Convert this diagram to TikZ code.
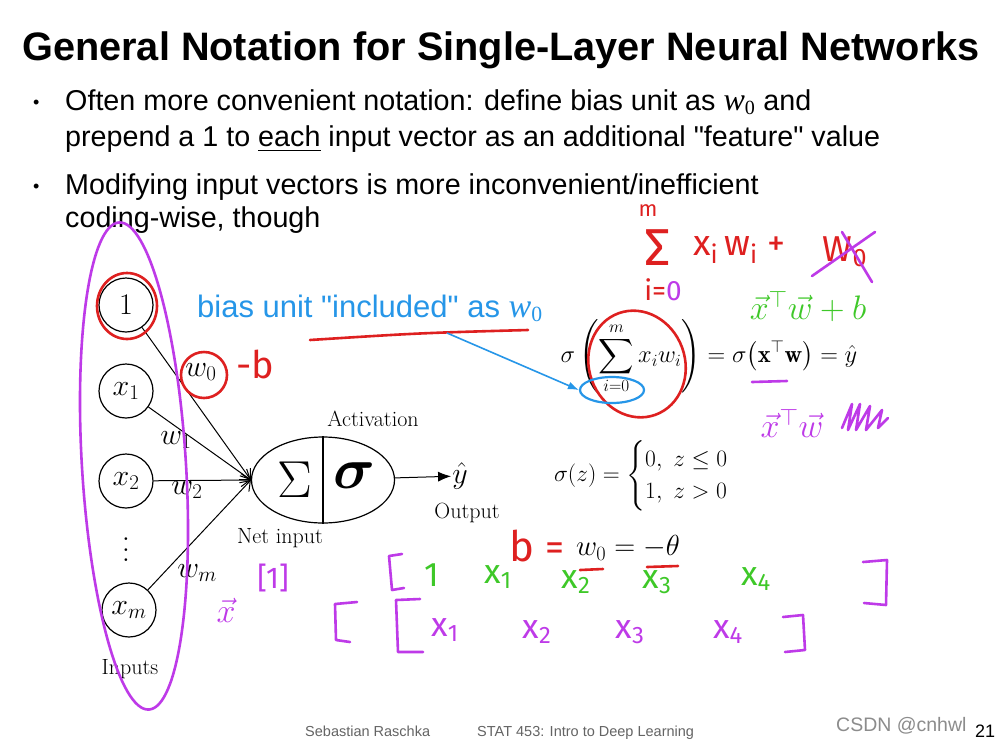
\documentclass[tikz,border=0pt]{standalone}
\usepackage{fix-cm}
\usepackage{amsmath, amssymb}
\usepackage{bm}
\usepackage{fontspec}
\newfontfamily\slidefont{Liberation Sans}
\newfontfamily\timesfont{Liberation Serif}
\newfontfamily\handfont{Fira Sans}
\usepackage{tikz}
\usetikzlibrary{positioning, shapes.geometric, arrows.meta}
\usepackage{xcolor}
\definecolor{penred}{RGB}{222,32,32}
\definecolor{pengreen}{RGB}{62,200,40}
\definecolor{penpurple}{RGB}{190,58,232}
\definecolor{slideblue}{RGB}{38,150,232}
\definecolor{footgray}{RGB}{100,100,100}

\begin{document}
\begin{tikzpicture}[x=1pt, y=-1pt,
    inputnode/.style={circle, draw, line width=1.2pt, minimum size=54pt, inner sep=0pt, font=\fontsize{30}{32}\selectfont},
    wlabel/.style={inner sep=1pt, font=\fontsize{30}{32}\selectfont},
    cmlabel/.style={inner sep=1pt, font=\fontsize{22}{24}\selectfont},
    mathbig/.style={inner sep=0pt, font=\fontsize{24.5}{28}\selectfont},
    slidetext/.style={anchor=base west, inner sep=0pt, font=\slidefont\fontsize{28.7}{32}\selectfont},
    hand/.style={inner sep=0pt, font=\handfont\fontsize{30}{32}\selectfont},
    rowhand/.style={inner sep=0pt, font=\handfont\fontsize{34}{36}\selectfont},
    pen/.style={line width=2.6pt, line cap=round, line join=round},
    wire/.style={line width=1pt, -{Straight Barb[length=9pt, width=13pt]}}]

    \useasboundingbox[fill=white] (0,0) rectangle (1000,745);

    % Title and bullets
    \node[anchor=base west, inner sep=0pt, font=\slidefont\bfseries\fontsize{39.7}{42}\selectfont] (title) at (22,60) {General Notation for Single-Layer Neural Networks};
    \node[slidetext] (dotA) at (33,108) {\fontsize{18}{20}\selectfont •};
    \node[slidetext] (lineA) at (65,110) {Often more convenient notation: define bias unit as {\timesfont\itshape\fontsize{32}{34}\selectfont w}\textsubscript{\timesfont 0} and};
    \node[slidetext] (lineB) at (65,146) {prepend a 1 to \underline{each} input vector as an additional "feature" value};
    \node[slidetext] (dotB) at (33,192) {\fontsize{18}{20}\selectfont •};
    \node[slidetext] (lineC) at (65,194) {Modifying input vectors is more inconvenient/inefficient};
    \node[slidetext] (lineD) at (65,227) {coding-wise, though};

    % Inputs
    \node[inputnode] (one) at (126,305) {$1$};
    \node[inputnode] (x1) at (126,391) {$x_1$};
    \node[inputnode] (x2) at (126,481) {$x_2$};
    \node[scale=2.6] (vdots) at (126,542) {$\vdots$};
    \node[inputnode] (xm) at (129,610) {$x_m$};
    \node[cmlabel] (inputs) at (130,669) {Inputs};

    % Neuron
    \node[ellipse, draw, line width=1.2pt, minimum width=143pt, minimum height=86pt] (neuron) at (323,480) {};
    \draw[line width=1.2pt] (neuron.north) -- (neuron.south);
    \node[font=\fontsize{52}{56}\selectfont] (sum) at (295,480) {$\Sigma$};
    \node[font=\fontsize{58}{60}\selectfont] (act) at (354,476) {$\bm{\sigma}$};
    \node[cmlabel] (activation) at (373,419) {Activation};
    \node[cmlabel] (netinput) at (280,538) {Net input};
    \node[wlabel] (yhat) at (460,476) {$\hat{y}$};
    \node[cmlabel] (output) at (467,513) {Output};

    % Weights
    \node[wlabel] (w0) at (201,372) {$w_0$};
    \node[wlabel] (w1) at (176,440) {$w_1$};
    \node[wlabel] (w2) at (187,490) {$w_2$};
    \node[wlabel] (wm) at (197,573) {$w_m$};

    % Connections
    \draw[wire] (one) -- (neuron.west);
    \draw[wire] (x1) -- (neuron.west);
    \draw[wire] (x2) -- (neuron.west);
    \draw[wire] (xm) -- (neuron.west);
    \draw[line width=1pt, -{Latex[length=13pt, width=10pt]}] (neuron) -- (yhat);

    % Formulas
    \node[slidetext, text=slideblue, font=\slidefont\fontsize{31}{34}\selectfont] (biasnote) at (197,317) {bias unit "included" as {\timesfont\itshape\fontsize{34}{36}\selectfont w}\textsubscript{\timesfont 0}};
    \node[mathbig] (netformula) at (709,357) {$\displaystyle \sigma\left(\sum_{i=0}^{m} x_i w_i\right) = \sigma\bigl(\mathbf{x}^{\top}\mathbf{w}\bigr) = \hat{y}$};
    \node[mathbig, font=\fontsize{23.5}{27}\selectfont] (stepfn) at (653,476) {$\sigma(z) = \begin{cases} 0,\ z \le 0\\ 1,\ z > 0\end{cases}$};
    \node[mathbig, font=\fontsize{29}{32}\selectfont] (biaseq) at (628,548) {$w_0 = -\theta$};

    % Red pen
    \draw[pen, penred] (127,306) ellipse (30 and 33);
    \draw[pen, penred] (204,375) ellipse (23 and 23);
    \node[hand, text=penred, font=\handfont\fontsize{38}{40}\selectfont] (bnote) at (255,364) {-b};
    \draw[pen, penred] (310,340) .. controls (420,333) .. (528,330);
    \draw[pen, penred, rotate around={20:(637,364)}] (637,364) ellipse (48 and 54);
    \node[hand, text=penred, font=\handfont\fontsize{22}{24}\selectfont] (sumtop) at (648,211) {m};
    \node[hand, text=penred, font=\handfont\fontsize{52}{54}\selectfont] (sumsign) at (658,248) {Σ};
    \node[hand, text=penred, font=\handfont\fontsize{28}{30}\selectfont] (sumbot) at (663,290) {i=\textcolor{penpurple}{0}};
    \node[hand, text=penred, anchor=west, font=\handfont\fontsize{36}{38}\selectfont] (sumterm) at (693,250) {x\textsubscript{i}\,w\textsubscript{i} +};
    \node[hand, text=penred, font=\handfont\fontsize{36}{38}\selectfont] (sumbias) at (845,252) {W\textsubscript{0}};
    \node[hand, text=penred, font=\handfont\fontsize{42}{44}\selectfont] (bsym) at (522,546) {b};
    \node[hand, text=penred, font=\handfont\fontsize{38}{40}\selectfont] (beq) at (555,552) {=};
    \draw[pen, penred] (580,570) -- (603,569);
    \draw[pen, penred] (647,567) -- (678,566);

    % Blue pen
    \coordinate (notefoot) at (447,333);
    \node[ellipse, draw=slideblue, line width=2.2pt, minimum width=64pt, minimum height=26pt] (limitring) at (612,390) {};
    \draw[slideblue, line width=1.6pt, -{Latex[length=11pt, width=8pt]}] (notefoot) -- (limitring.west);

    % Green pen
    \node[hand, text=pengreen, font=\fontsize{34}{36}\selectfont] (vecsum) at (808,306) {$\vec{x}^{\top}\vec{w}+b$};
    \node[rowhand, text=pengreen] (gone) at (432,575) {1};
    \node[rowhand, text=pengreen] (gx1) at (498,577) {x\textsubscript{1}};
    \node[rowhand, text=pengreen] (gx2) at (576,582) {x\textsubscript{2}};
    \node[rowhand, text=pengreen] (gx3) at (657,582) {x\textsubscript{3}};
    \node[rowhand, text=pengreen] (gx4) at (756,579) {x\textsubscript{4}};

    % Purple pen
    \draw[pen, penpurple, rotate around={3.5:(134,466)}] (134,466) ellipse (52 and 244);
    \draw[pen, penpurple] (812,276) -- (875,232);
    \draw[pen, penpurple] (842,232) -- (872,282);
    \draw[pen, penpurple] (752,382) -- (787,381);
    \node[hand, text=penpurple, font=\fontsize{34}{36}\selectfont] (vecprod) at (792,423) {$\vec{x}^{\top}\vec{w}$};
    \draw[pen, penpurple] (842,428) -- (852,404) -- (848,430) -- (860,404) -- (856,430) -- (870,406) -- (866,430) -- (882,410) -- (878,428) -- (888,418);
    \node[hand, text=penpurple, font=\fontsize{34}{36}\selectfont] (xvec) at (226,610) {$\vec{x}$};
    \node[hand, text=penpurple] (onevec) at (273,578) {[1]};
    \draw[pen, penpurple] (402,554) -- (389,556) -- (392,590) -- (404,588);
    \draw[pen, penpurple] (863,562) -- (887,560) -- (886,605) -- (864,603);
    \draw[pen, penpurple] (357,602) -- (335,604) -- (336,640) -- (350,642);
    \draw[pen, penpurple] (420,599) -- (396,600) -- (398,652) -- (423,652);
    \draw[pen, penpurple] (783,617) -- (803,615) -- (805,650) -- (785,652);
    \node[rowhand, text=penpurple] (px1) at (445,630) {x\textsubscript{1}};
    \node[rowhand, text=penpurple] (px2) at (537,632) {x\textsubscript{2}};
    \node[rowhand, text=penpurple] (px3) at (630,632) {x\textsubscript{3}};
    \node[rowhand, text=penpurple] (px4) at (728,632) {x\textsubscript{4}};

    % Footer
    \node[anchor=base west, inner sep=0pt, text=footgray, font=\slidefont\fontsize{14.5}{16}\selectfont] (author) at (305,736) {Sebastian Raschka};
    \node[anchor=base west, inner sep=0pt, text=footgray, font=\slidefont\fontsize{14.5}{16}\selectfont] (course) at (477,736) {STAT 453: Intro to Deep Learning};
    \node[anchor=base west, inner sep=0pt, text=black!45, font=\slidefont\fontsize{19.5}{21}\selectfont] (watermark) at (836,731) {CSDN @cnhwl};
    \node[anchor=base west, inner sep=0pt, font=\slidefont\fontsize{18}{20}\selectfont] (pagenum) at (975,737) {21};

\end{tikzpicture}
\end{document}
